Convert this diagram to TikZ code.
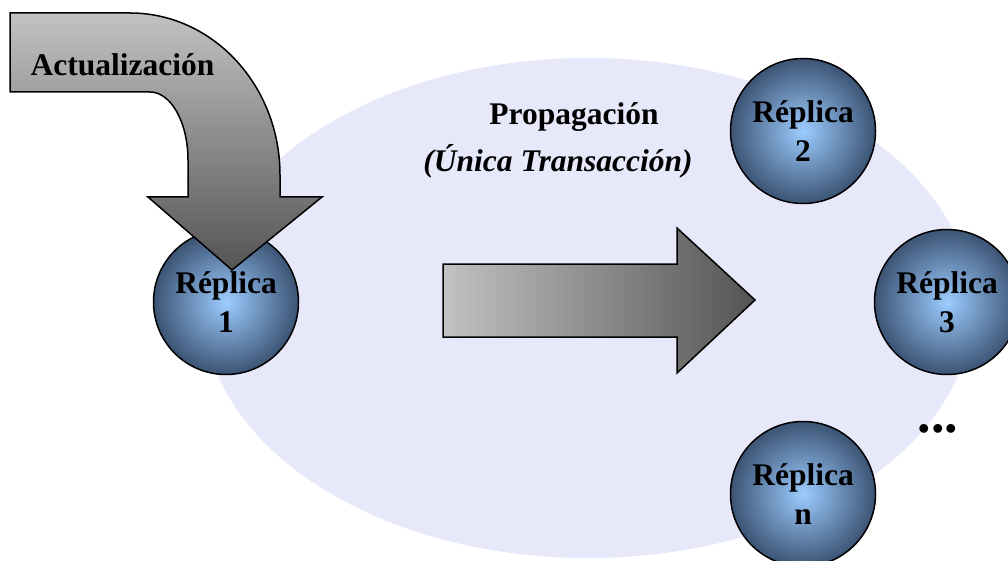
\documentclass[tikz,border=0pt]{standalone}
\usepackage{fontspec}
\setmainfont{Liberation Serif}
\usetikzlibrary{shapes.geometric}

\definecolor{cloudfill}{RGB}{232,232,251}
\definecolor{ballhi}{RGB}{156,204,255}
\definecolor{balllo}{RGB}{60,84,116}
\definecolor{arrowlight}{RGB}{194,194,194}
\definecolor{arrowmid}{RGB}{160,160,160}
\definecolor{arrowdark}{RGB}{84,84,84}

\newcommand{\labelfont}{\fontsize{31.5}{39}\selectfont\bfseries}

\tikzset{
  replica/.style={circle, draw=black, line width=1.5pt, minimum size=145pt,
    inner sep=0pt, shade, inner color=ballhi, outer color=balllo,
    align=center, font=\labelfont},
  label/.style={anchor=base, inner sep=0pt, font=\labelfont},
  bigarrow/.style={draw=black, line width=1.5pt, line join=miter}
}

\begin{document}
\begin{tikzpicture}[x=1pt, y=-1pt]
  \clip (0,0) rectangle (1008,561);
  \fill[white] (0,0) rectangle (1008,561);

  % light background cloud
  \node[ellipse, fill=cloudfill, minimum width=768pt, minimum height=500pt,
        inner sep=0pt] (cloud) at (588,308) {};

  % first replica, receiving the update
  \node[replica] (r1) at (226,302) {Réplica\\1};

  % bent update arrow
  \path[bigarrow, top color=arrowlight, middle color=arrowmid, bottom color=arrowdark]
    (10,13) -- (130,13)
    arc[start angle=-90, end angle=0, x radius=150, y radius=162]
    -- (280,197) -- (322,197) -- (232,270) -- (148,197) -- (188,197) -- (188,160)
    arc[start angle=0, end angle=-90, x radius=38, y radius=68]
    -- (10,92) -- cycle;
  \node[label] (upd) at (122.5,76) {Actualización};

  % propagation arrow
  \path[bigarrow, left color=arrowlight, middle color=arrowmid, right color=arrowdark]
    (443,264) -- (677,264) -- (677,228) -- (755,300) -- (677,373) -- (677,337)
    -- (443,337) -- cycle;
  \node[label] (prop) at (574,125) {Propagación};
  \node[label, font=\labelfont\itshape] (tx) at (558,172) {(Única Transacción)};

  % remaining replicas
  \node[replica] (r2) at (803,131) {Réplica\\2};
  \node[replica] (r3) at (947,302) {Réplica\\3};
  \node[replica] (rn) at (803,494) {Réplica\\n};
  \node[label, font=\fontsize{54}{60}\selectfont\bfseries] (more) at (938,432) {...};
\end{tikzpicture}
\end{document}
